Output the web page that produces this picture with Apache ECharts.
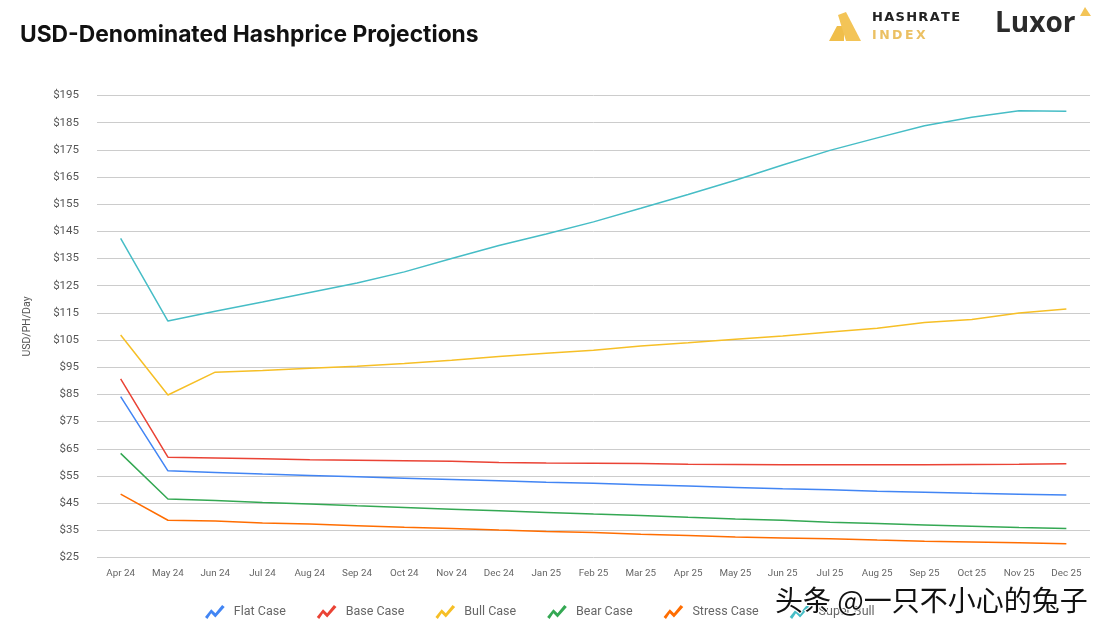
<!DOCTYPE html>
<html>
<head>
<meta charset="utf-8">
<script src="https://cdn.jsdelivr.net/npm/echarts@6/dist/echarts.min.js"></script>
<style>
html,body{margin:0;padding:0;background:#fff;}
#chart{width:1109px;height:633px;}
</style>
</head>
<body>
<div id="chart"></div>
<script>
const categories = ['Apr 24','May 24','Jun 24','Jul 24','Aug 24','Sep 24','Oct 24','Nov 24','Dec 24','Jan 25','Feb 25','Mar 25','Apr 25','May 25','Jun 25','Jul 25','Aug 25','Sep 25','Oct 25','Nov 25','Dec 25'];
const flatCase   = [84.2,56.9,56.3,55.7,55.2,54.7,54.2,53.7,53.2,52.7,52.3,51.8,51.3,50.8,50.3,49.9,49.4,49.0,48.6,48.3,48.0];
const baseCase   = [90.7,61.9,61.6,61.3,61.0,60.8,60.6,60.4,60.0,59.8,59.7,59.6,59.3,59.2,59.1,59.1,59.1,59.1,59.2,59.3,59.5];
const bullCase   = [106.9,84.8,93.2,93.8,94.6,95.4,96.4,97.6,99.0,100.2,101.3,102.8,104.0,105.3,106.5,108.0,109.4,111.5,112.6,115.0,116.4];
const bearCase   = [63.3,46.5,46.0,45.2,44.7,44.0,43.4,42.8,42.2,41.6,41.0,40.5,39.8,39.2,38.7,38.0,37.5,37.0,36.5,36.0,35.7];
const stressCase = [48.3,38.7,38.4,37.7,37.3,36.7,36.1,35.7,35.1,34.6,34.2,33.6,33.1,32.5,32.2,31.9,31.4,31.0,30.7,30.4,30.1];
const superBull  = [142.4,112.0,115.6,119.0,122.5,126.0,130.1,135.0,139.8,144.0,148.5,153.5,158.6,163.8,169.4,174.8,179.4,183.9,187.0,189.4,189.2];
const seriesNames = ['Flat Case','Base Case','Bull Case','Bear Case','Stress Case','Super Bull'];
const seriesData = [flatCase, baseCase, bullCase, bearCase, stressCase, superBull];
const colors = ['#4285F4','#EA4335','#F6BF26','#34A853','#FF6D01','#46BDC6'];

const zigzag = 'path://M0,12 L6,4.5 L10,8.5 L16.5,0.5 L19,2.5 L10,12.5 L6,8.5 L2.3,14 Z';
const hs = '\u200A';

const chart = echarts.init(document.getElementById('chart'));
chart.setOption({
  backgroundColor: '#fff',
  animation: false,
  color: colors,
  title: {
    text: 'USD-Denominated Hashprice Projections',
    left: 15, top: 19,
    textStyle: { fontFamily: 'Inter', fontWeight: 'bold', fontSize: 22.8, color: '#111' }
  },
  legend: {
    bottom: 9, left: 200,
    itemWidth: 20, itemHeight: 14, itemGap: 31,
    icon: zigzag,
    textStyle: { fontFamily: 'Roboto', fontSize: 12.5, color: '#666', padding: [0, 0, 0, 4] },
    data: seriesNames
  },
  grid: { left: 97, right: 19, top: 95.5, bottom: 75.5 },
  xAxis: {
    type: 'category',
    data: categories,
    boundaryGap: true,
    axisLine: { show: false },
    axisTick: { show: false },
    axisLabel: { interval: 0, margin: 11, fontFamily: 'Roboto', fontSize: 9.8, color: '#666' }
  },
  yAxis: {
    type: 'value',
    min: 25, max: 195, interval: 10,
    name: 'USD/PH/Day',
    nameLocation: 'middle', nameGap: 64, nameRotate: 90,
    nameTextStyle: { fontFamily: 'Roboto', fontSize: 10.5, color: '#555' },
    axisLine: { show: false },
    axisTick: { show: false },
    axisLabel: { formatter: v => '$' + v, margin: 18, fontFamily: 'Roboto', fontSize: 11.5, color: '#555' },
    splitLine: { lineStyle: { color: '#cccccc', width: 1 } }
  },
  series: seriesNames.map((n, i) => ({
    name: n,
    type: 'line',
    data: seriesData[i],
    symbol: 'none',
    lineStyle: { width: 1.5, color: colors[i] },
    itemStyle: { color: colors[i] }
  })),
  graphic: [
    { type: 'polygon', shape: { points: [[829,41],[837,26],[844,26],[844,41]] }, style: { fill: '#F0BE4A' } },
    { type: 'polygon', shape: { points: [[838,15],[846,12],[861,41],[846,41]] }, style: { fill: '#F3C457' } },
    { type: 'text', left: 872, top: 11, style: { text: ['H','A','S','H','R','A','T','E'].join(hs), font: 'bold 13px "DejaVu Sans"', fill: '#222' } },
    { type: 'text', left: 872, top: 29, style: { text: ['I','N','D','E','X'].join(hs + hs), font: 'bold 12.5px "DejaVu Sans"', fill: '#EBC063' } },
    { type: 'text', left: 995, top: 10, style: { text: 'Luxor', font: 'bold 28px "Open Sans"', fill: '#2b2b2b' } },
    { type: 'polygon', shape: { points: [[1080,16],[1085,7],[1091,16]] }, style: { fill: '#F3C457' } },
    { type: 'text', left: 774, top: 585, z: 100, style: { text: '头条 @一只不小心的兔子', font: '28px "Noto Sans CJK SC"', fill: '#111', stroke: '#fff', lineWidth: 2 } }
  ]
});
</script>
</body>
</html>
